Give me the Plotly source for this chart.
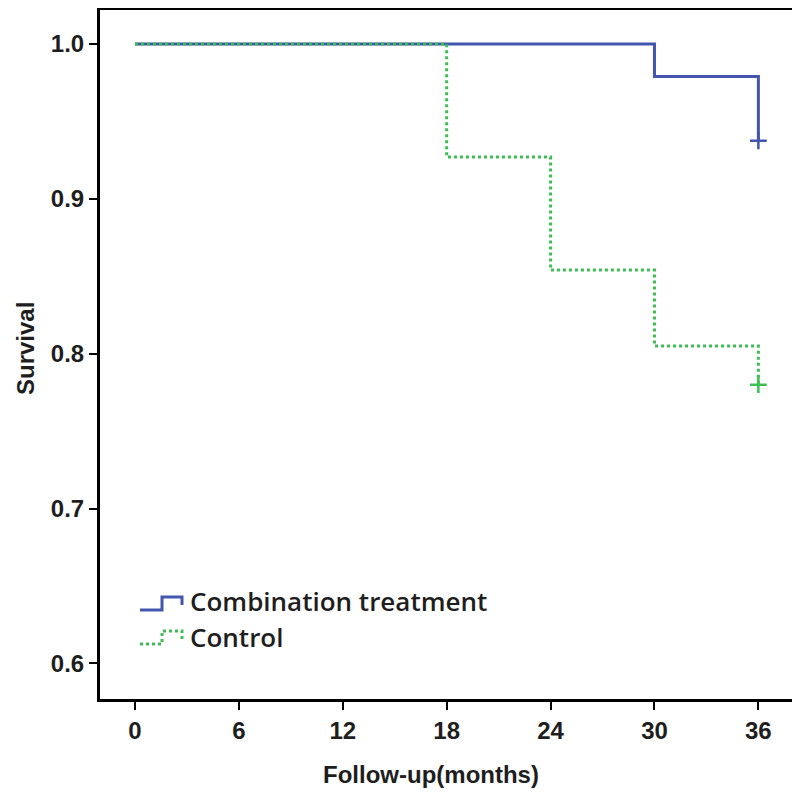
import plotly.graph_objects as go

# Data
combo_months = [0, 30, 36]
combo_surv = [1.0, 0.979, 0.9375]
control_months = [0, 18, 24, 30, 36]
control_surv = [1.0, 0.927, 0.854, 0.805, 0.780]
censor_months = [36]
combo_censor = [0.9375]
control_censor = [0.780]
x_ticks = [0, 6, 12, 18, 24, 30, 36]
y_ticks = [0.6, 0.7, 0.8, 0.9, 1.0]
series_names = ["Combination treatment", "Control"]
x_title = "Follow-up(months)"
y_title = "Survival"

BLUE = "#4356AE"
GREEN = "#3DBE55"
AXFONT = "Liberation Sans"
LEGFONT = "Open Sans"
TXT = "#1e1e1e"

fig = go.Figure()
fig.add_trace(go.Scatter(x=combo_months, y=combo_surv, mode="lines", line_shape="hv",
                         line=dict(color=BLUE, width=3), showlegend=False))
fig.add_trace(go.Scatter(x=control_months, y=control_surv, mode="lines", line_shape="hv",
                         line=dict(color=GREEN, width=3, dash="dot"), showlegend=False))
fig.add_trace(go.Scatter(x=censor_months, y=combo_censor, mode="markers",
                         marker=dict(symbol="cross-thin", size=12, line=dict(color=BLUE, width=2.5)),
                         showlegend=False))
fig.add_trace(go.Scatter(x=censor_months, y=control_censor, mode="markers",
                         marker=dict(symbol="cross-thin", size=12, line=dict(color=GREEN, width=2.5)),
                         showlegend=False))

axis_common = dict(showline=True, linecolor="black", linewidth=3, mirror=True,
                   ticks="outside", ticklen=8, tickwidth=2, tickcolor="black",
                   showgrid=False, zeroline=False,
                   tickfont=dict(family=AXFONT, size=24, color=TXT, weight="bold"))

fig.update_xaxes(range=[-2.02, 38.0], tickvals=x_ticks, ticktext=[str(v) for v in x_ticks],
                 **axis_common)
fig.update_yaxes(range=[0.577, 1.022], tickvals=y_ticks, ticktext=[f"{v:.1f}" for v in y_ticks],
                 **axis_common)

# Positions relative to the plot area (screen x 100-793, y 10-699)
def px2paper(x, y):
    return ((x - 100) / (793 - 100), 1 - (y - 10) / (699 - 10))

# Axis titles
tx, ty = px2paper(431, 774)
fig.add_annotation(x=tx, y=ty, xref="paper", yref="paper", text=x_title, showarrow=False,
                   xanchor="center", yanchor="middle",
                   font=dict(family=AXFONT, size=24, color=TXT, weight="bold"))
tx, ty = px2paper(25, 349)
fig.add_annotation(x=tx, y=ty, xref="paper", yref="paper", text=y_title, showarrow=False,
                   textangle=-90, xanchor="center", yanchor="middle",
                   font=dict(family=AXFONT, size=24, color=TXT, weight="bold"))

# Legend glyphs
x0, y0 = px2paper(140, 610)
x1, y1 = px2paper(162, 597)
x2, y2 = px2paper(182, 605)
fig.add_shape(type="path", xref="paper", yref="paper",
              path=f"M {x0},{y0} L {x1},{y0} L {x1},{y1} L {x2},{y1} L {x2},{y2}",
              line=dict(color=BLUE, width=3))
a0, b0 = px2paper(140, 644)
a1, b1 = px2paper(162, 631)
a2, b2 = px2paper(182, 639)
fig.add_shape(type="path", xref="paper", yref="paper",
              path=f"M {a0},{b0} L {a1},{b0} L {a1},{b1} L {a2},{b1} L {a2},{b2}",
              line=dict(color=GREEN, width=3, dash="dot"))

for name, ypx in zip(series_names, [601, 637]):
    tx, ty = px2paper(188, ypx)
    fig.add_annotation(x=tx, y=ty, xref="paper", yref="paper", text=name, showarrow=False,
                       xanchor="left", yanchor="middle",
                       font=dict(family=LEGFONT, size=26, color=TXT, weight=600))

# page body has an 8px margin: compensate so the plot area sits at x 100-793, y 10-699
fig.update_layout(width=800, height=794, margin=dict(l=92, r=15, t=2, b=103, autoexpand=False),
                  plot_bgcolor="white", paper_bgcolor="white",
                  font=dict(family=AXFONT, color=TXT))

fig.write_html("out.html")
